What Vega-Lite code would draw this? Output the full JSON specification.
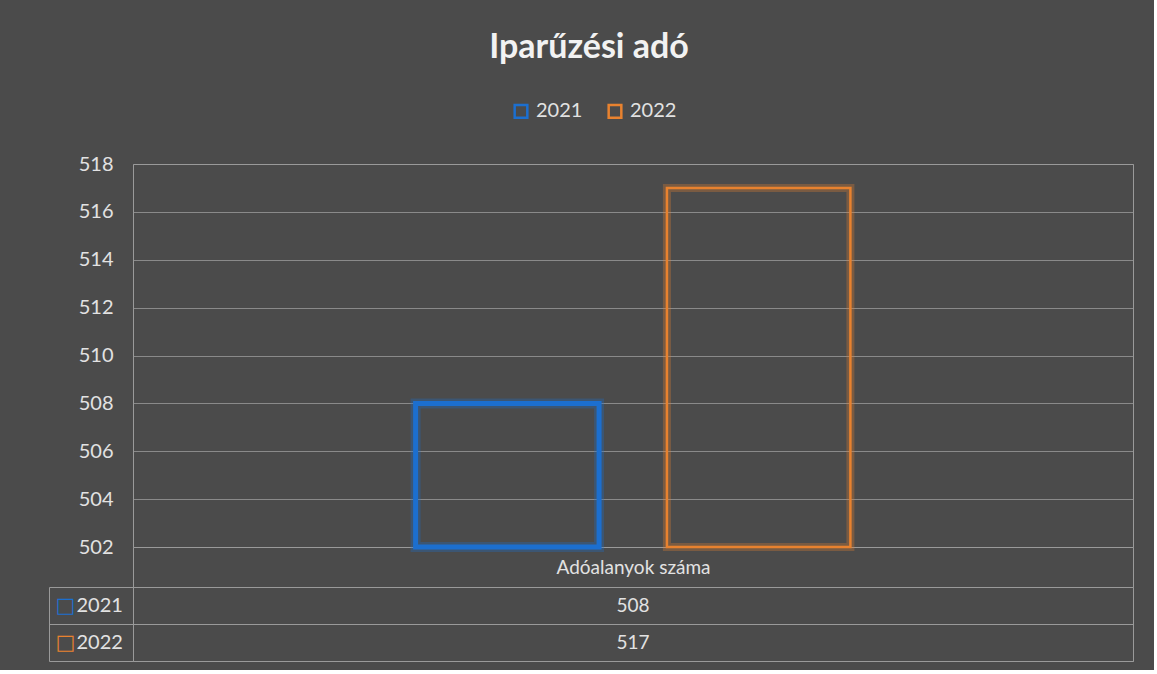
{
  "$schema": "https://vega.github.io/schema/vega-lite/v6.json",
  "background": "#4b4b4b",
  "padding": {"left": 48, "top": 31, "right": 20, "bottom": 8},
  "bounds": "flush",
  "spacing": 40,
  "title": {"text": "Iparűzési adó", "fontSize": 34, "fontWeight": "bold", "color": "#f2f2f2", "anchor": "middle", "offset": 36, "dx": -2, "font": "Lato"},
  "datasets": {
    "d": [
      {"category": "Adóalanyok száma", "year": "2021", "value": 508},
      {"category": "Adóalanyok száma", "year": "2022", "value": 517}
    ]
  },
  "vconcat": [
    {
      "width": 1000,
      "height": 383,
      "data": {"name": "d"},
      "encoding": {
        "x": {"field": "category", "type": "nominal", "axis": null, "scale": {"paddingInner": 0, "paddingOuter": 0.65}},
        "xOffset": {"field": "year", "type": "nominal", "scale": {"paddingInner": 0.27, "paddingOuter": 0}},
        "y": {"field": "value", "type": "quantitative", "scale": {"domain": [502, 518], "zero": false, "nice": false},
          "axis": {"title": null, "values": [502, 504, 506, 508, 510, 512, 514, 516, 518], "domain": false, "ticks": false, "labelFontSize": 20, "labelColor": "#e2e2e2", "labelPadding": 20, "gridColor": "#9a9a9a", "gridOpacity": 0.8}},
        "y2": {"datum": 502},
        "color": {"field": "year", "type": "nominal", "scale": {"range": ["#1c6fcf", "#e8822f"]},
          "legend": {"title": null, "orient": "none", "legendX": 378, "legendY": -63, "direction": "horizontal"}}
      },
      "layer": [
        {
          "mark": {"type": "bar", "filled": false, "strokeOpacity": 0.3},
          "encoding": {"strokeWidth": {"condition": {"test": "datum.year === '2021'", "value": 10}, "value": 8}}
        },
        {
          "mark": {"type": "bar", "filled": false},
          "encoding": {"strokeWidth": {"condition": {"test": "datum.year === '2021'", "value": 5}, "value": 2.5}}
        }
      ]
    },
    {
      "width": 1000,
      "height": 74,
      "data": {"name": "d"},
      "encoding": {
        "x": {"field": "category", "type": "nominal", "scale": {"paddingInner": 0, "paddingOuter": 0},
          "axis": {"title": null, "orient": "top", "domain": false, "ticks": true, "tickBand": "extent", "tickSize": 40, "tickColor": "#9a9a9a", "grid": false, "labelAngle": 0, "labelBaseline": "middle", "labelPadding": -20, "labelFontSize": 19, "labelColor": "#e2e2e2"}}
      },
      "layer": [
        {
          "mark": {"type": "text", "fontSize": 19, "color": "#e2e2e2"},
          "encoding": {
            "y": {"field": "year", "type": "nominal", "scale": {"paddingInner": 0, "paddingOuter": 0},
              "axis": {"title": null, "orient": "left", "domain": false, "ticks": true, "tickBand": "extent", "tickSize": 84, "tickColor": "#9a9a9a", "grid": true, "gridColor": "#9a9a9a", "labelAlign": "left", "labelPadding": -27, "labelFontSize": 20, "labelColor": "#e2e2e2"}},
            "text": {"field": "value", "type": "quantitative"}
          }
        },
        {
          "mark": {"type": "text", "opacity": 0},
          "encoding": {
            "y": {"field": "year", "type": "nominal",
              "axis": {"title": null, "orient": "left", "offset": 84, "domain": true, "domainColor": "#9a9a9a", "ticks": false, "tickSize": 0, "grid": false, "labelExpr": "'□'", "labelAlign": "center", "labelPadding": -16, "labelFont": "DejaVu Sans", "labelFontWeight": "bold", "labelFontSize": 21,
                "labelColor": {"condition": {"test": "datum.value === '2021'", "value": "#1c6fcf"}, "value": "#e8822f"}}},
            "text": {"field": "value", "type": "quantitative"}
          }
        }
      ],
      "resolve": {"axis": {"y": "independent"}}
    }
  ],
  "config": {
    "font": "Lato",
    "view": {"stroke": "#9a9a9a"},
    "legend": {
      "labelFontSize": 20,
      "labelColor": "#e2e2e2",
      "symbolType": "square",
      "symbolSize": 160,
      "symbolStrokeWidth": 2.5,
      "symbolOpacity": 1,
      "columnPadding": 20,
      "labelOffset": 5
    }
  }
}
